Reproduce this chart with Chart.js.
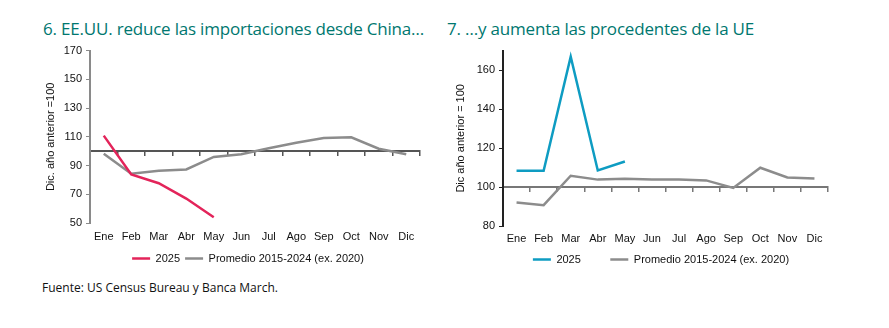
<!DOCTYPE html>
<html>
<head>
<meta charset="utf-8">
<script src="https://cdn.jsdelivr.net/npm/chart.js@4"></script>
<style>
  body { margin: 0; background: #fff; width: 889px; height: 328px; position: relative; overflow: hidden; }
  .title { position: absolute; top: 17px; font-family: "Open Sans", sans-serif; font-size: 17px; color: #00776f; white-space: nowrap; letter-spacing: -0.2px; }
  .box { position: absolute; top: 40px; }
  .source { position: absolute; left: 42px; top: 279px; font-family: "Open Sans", sans-serif; font-size: 12px; color: #111; }
</style>
</head>
<body>
<div class="title" style="left:43px">6. EE.UU. reduce las importaciones desde China…</div>
<div class="title" style="left:447px">7. …y aumenta las procedentes de la UE</div>
<div class="box" style="left:0;width:440px;height:234px"><canvas id="chart-china"></canvas></div>
<div class="box" style="left:440px;width:449px;height:235px"><canvas id="chart-ue"></canvas></div>
<div class="source">Fuente: US Census Bureau y Banca March.</div>
<script>
// Datos
const months = ['Ene', 'Feb', 'Mar', 'Abr', 'May', 'Jun', 'Jul', 'Ago', 'Sep', 'Oct', 'Nov', 'Dic'];

const china2025 = [110.8, 83.8, 77.7, 67, 54, null, null, null, null, null, null, null];
const chinaAvg = [98.2, 84.3, 86.3, 87.3, 96, 97.8, 102, 105.8, 109.2, 109.7, 101.7, 97.8];

const ue2025 = [108.3, 108.3, 166.9, 108.5, 113.1, null, null, null, null, null, null, null];
const ueAvg = [92.1, 90.7, 105.8, 103.8, 104.2, 103.9, 103.9, 103.4, 99.5, 109.9, 104.9, 104.4];

const chinaTicks = [50, 70, 90, 110, 130, 150, 170];
const ueTicks = [80, 100, 120, 140, 160];

const font = { family: '"Liberation Sans", Arial, sans-serif', size: 11 };

// desplaza la leyenda en horizontal
const legendShift = {
    id: 'legendShift',
    afterLayout(chart, args, opts) {
        if (chart.legend) {
            chart.legend.left += opts.dx;
            chart.legend.right += opts.dx;
        }
    }
};

function makeChart(id, opts) {
    const ctx = document.getElementById(id).getContext('2d');
    return new Chart(ctx, {
        type: 'line',
        plugins: [legendShift],
        data: {
            labels: months,
            datasets: [
                {
                    label: '2025',
                    data: opts.s2025,
                    borderColor: opts.color,
                    backgroundColor: opts.color,
                    borderWidth: 2.5,
                    pointRadius: 0,
                    tension: 0
                },
                {
                    label: 'Promedio 2015-2024 (ex. 2020)',
                    data: opts.avg,
                    borderColor: '#8c8c8c',
                    backgroundColor: '#8c8c8c',
                    borderWidth: 2.5,
                    pointRadius: 0,
                    tension: 0
                }
            ]
        },
        options: {
            responsive: true,
            maintainAspectRatio: false,
            animation: false,
            layout: { padding: opts.padding },
            plugins: {
                tooltip: { enabled: false },
                legendShift: { dx: opts.legendDx },
                legend: {
                    position: 'bottom',
                    labels: {
                        font: font,
                        color: '#111',
                        boxWidth: 18,
                        boxHeight: 2.5,
                        padding: 5,
                        generateLabels: function(chart) {
                            const items = Chart.defaults.plugins.legend.labels.generateLabels(chart);
                            items[0].text = items[0].text + opts.firstPad;
                            items.forEach(it => { it.lineWidth = 0; });
                            return items;
                        }
                    }
                }
            },
            scales: {
                x: {
                    offset: true,
                    afterFit: function(scale) { scale.height = opts.xHeight; },
                    grid: { display: false, drawTicks: false },
                    border: { display: false },
                    ticks: { font: font, color: '#111', padding: opts.xPad, maxRotation: 0, autoSkip: false }
                },
                // eje en el valor 100 con marcas
                x100: {
                    type: 'category',
                    labels: months,
                    position: { y: 100 },
                    offset: true,
                    grid: { drawOnChartArea: false, offset: true, drawTicks: true, tickLength: 4, color: opts.baseColor, lineWidth: 1.5 },
                    border: { display: true, color: opts.baseColor, width: 2 },
                    ticks: { display: false }
                },
                y: {
                    min: opts.min,
                    max: opts.max,
                    afterBuildTicks: function(scale) {
                        scale.ticks = opts.ticks.map(v => ({ value: v }));
                    },
                    afterFit: function(scale) { scale.width = opts.yWidth; },
                    grid: { drawOnChartArea: false, tickLength: 4, color: opts.axisColor },
                    border: { color: opts.axisColor, width: 2 },
                    ticks: { font: font, color: '#111', padding: 4 },
                    title: { display: true, text: opts.yTitle, font: font, color: '#111', padding: 0 }
                }
            }
        }
    });
}

makeChart('chart-china', {
    s2025: china2025,
    avg: chinaAvg,
    color: '#e3245a',
    min: 50, max: 170, ticks: chinaTicks,
    yTitle: 'Dic. año anterior =100',
    yWidth: 46,
    xHeight: 25,
    xPad: 7,
    axisColor: '#8a8a8a',
    baseColor: '#555',
    firstPad: '',
    legendDx: 16,
    padding: { left: 44, right: 20, top: 7, bottom: 0 }
});

makeChart('chart-ue', {
    s2025: ue2025,
    avg: ueAvg,
    color: '#0e9cc2',
    min: 80, max: 170, ticks: ueTicks,
    yTitle: 'Dic año anterior = 100',
    yWidth: 49,
    xHeight: 23,
    xPad: 6,
    axisColor: '#222',
    baseColor: '#777',
    firstPad: '        ',
    legendDx: 20,
    padding: { left: 14, right: 61, top: 8, bottom: 0 }
});
</script>
</body>
</html>
